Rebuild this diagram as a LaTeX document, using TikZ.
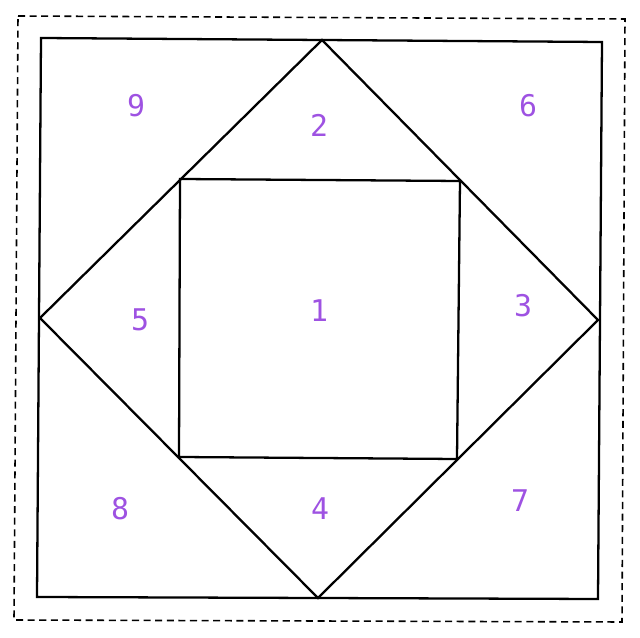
\documentclass[tikz,border=0pt]{standalone}
\usepackage{fontspec}
\setmonofont{DejaVu Sans Mono}
\usepackage{tikz}
\definecolor{patchpurple}{RGB}{158,82,226}

\begin{document}
\begin{tikzpicture}[x=0.02cm, y=-0.02cm,
                    line width=1.3pt, line join=miter,
                    nodes={text=patchpurple, font=\ttfamily\fontsize{17}{18}\selectfont, inner sep=0}]
                \useasboundingbox (0,0) rectangle (640,638);

                % dashed frame
                \draw [line width=0.9pt, dash pattern=on 4pt off 2.6pt]
                    (18,16) -- (625,19) -- (622,622) -- (14,620) -- cycle;

                % outer square
                \coordinate (a) at (41,38);
                \coordinate (b) at (602,42);
                \coordinate (c) at (598,599);
                \coordinate (d) at (37,597);
                \draw (a) -- (b) -- (c) -- (d) -- cycle;

                % diamond
                \coordinate (top) at (322,40);
                \coordinate (right) at (598,320);
                \coordinate (bottom) at (318,598);
                \coordinate (left) at (40,318);
                \draw (top) -- (right) -- (bottom) -- (left) -- cycle;

                % inner square
                \coordinate (p) at (180,179);
                \coordinate (q) at (460,181);
                \coordinate (r) at (457,459);
                \coordinate (s) at (179,457);
                \draw (p) -- (q) -- (r) -- (s) -- cycle;

                \node (1) at (319,311) {1};
                \node (2) at (319,125) {2};
                \node (3) at (523,306) {3};
                \node (4) at (320,509) {4};
                \node (5) at (140,320) {5};
                \node (6) at (528,106) {6};
                \node (7) at (520,501) {7};
                \node (8) at (120,509) {8};
                \node (9) at (136,106) {9};
            \end{tikzpicture}
\end{document}
